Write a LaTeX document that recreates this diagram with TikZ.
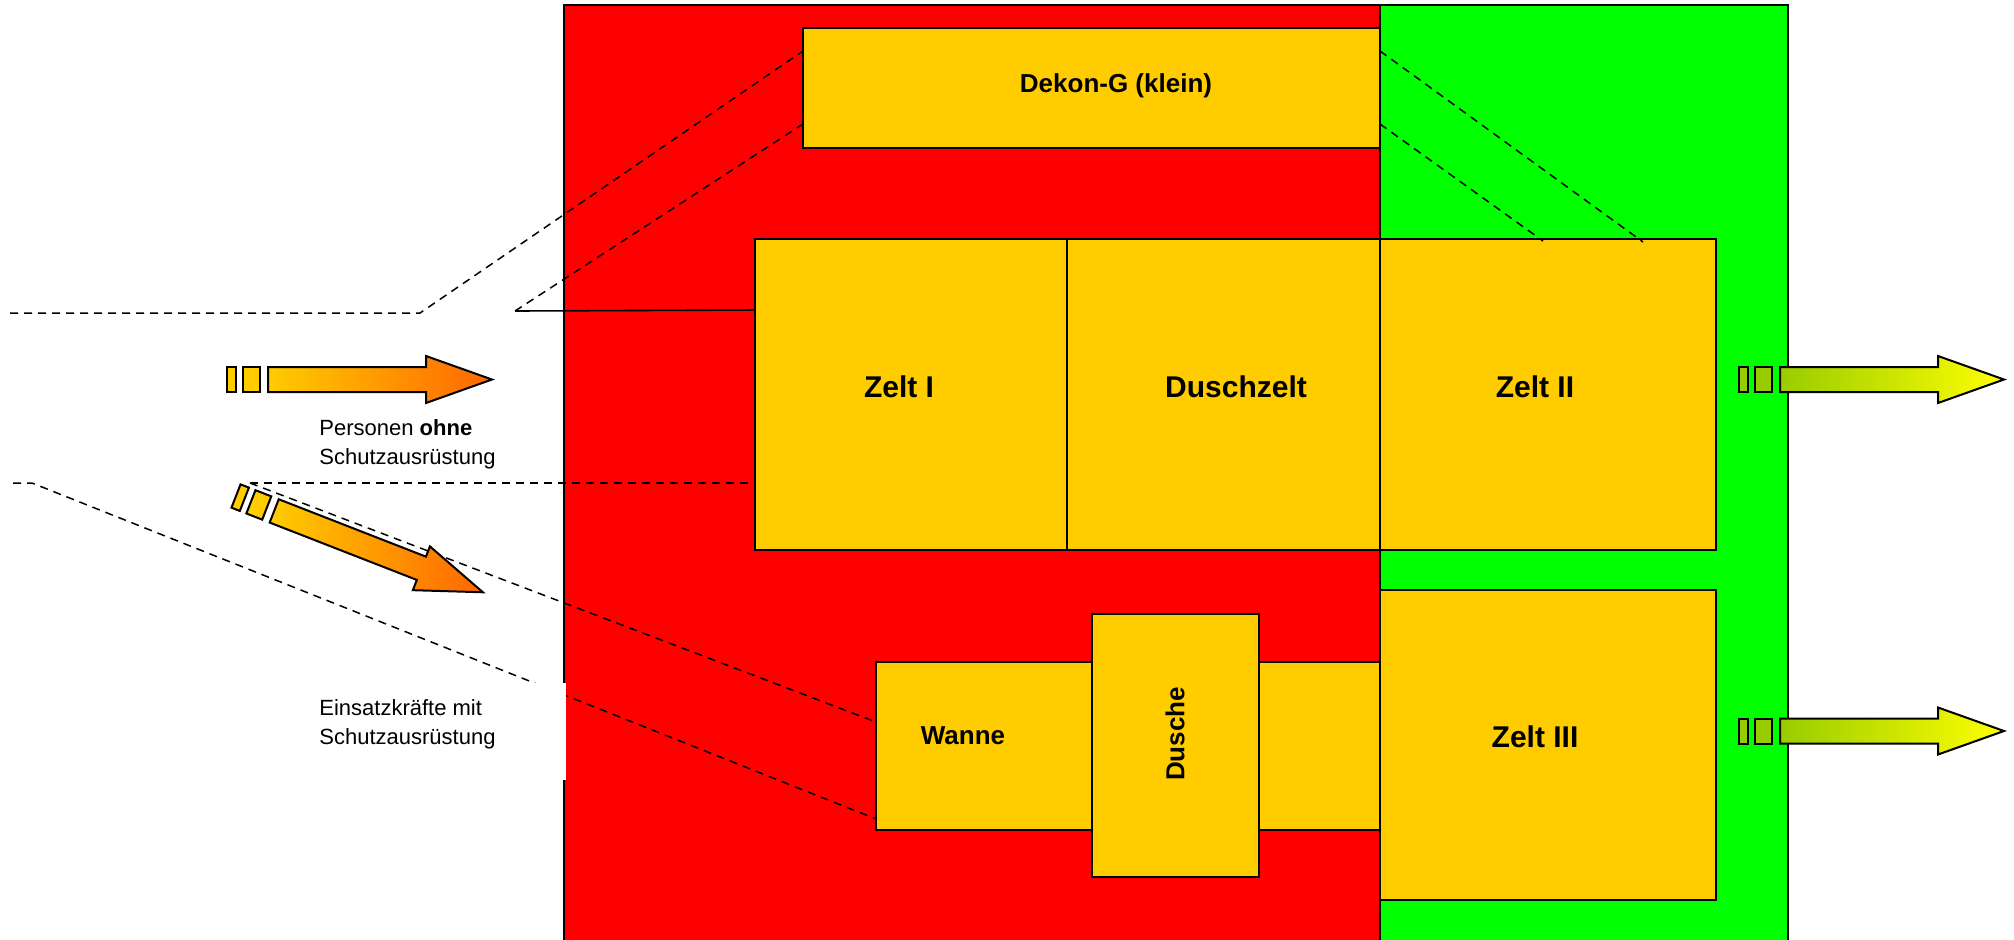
\documentclass[tikz,border=0pt]{standalone}
\usepackage{fontspec}
\setmainfont{Liberation Sans}
\usetikzlibrary{fit}
\definecolor{zred}{HTML}{FF0000}
\definecolor{zgreen}{HTML}{00FF00}
\definecolor{gold}{HTML}{FFCC00}
\definecolor{aorange}{HTML}{FF6600}
\definecolor{olive}{HTML}{99CC00}
\definecolor{ayellow}{HTML}{FFFF00}
\tikzset{
  zone/.style={draw=black, line width=1pt},
  box/.style={draw=black, fill=gold, line width=1pt, inner sep=0pt},
  dashline/.style={dash pattern=on 4pt off 3pt, line width=0.75pt},
  solidline/.style={line width=0.8pt},
  arrowline/.style={draw=black, line width=1pt, line join=miter},
  biglabel/.style={font=\fontsize{15pt}{18pt}\selectfont\bfseries, inner sep=0pt},
  midlabel/.style={font=\fontsize{13pt}{16pt}\selectfont\bfseries, inner sep=0pt},
  sidetext/.style={font=\fontsize{11pt}{14.3pt}\selectfont, align=left, inner sep=0pt, anchor=west},
  pics/flowarrow/.style n args={2}{code={
    \draw[arrowline, fill=#1] (0,-12.5) rectangle (9,12.5);
    \draw[arrowline, fill=#1] (16,-12.5) rectangle (33,12.5);
    \draw[arrowline, left color=#1, right color=#2]
      (41,-12.5) -- (199,-12.5) -- (199,-23.5) -- (265,0) -- (199,23.5) -- (199,12.5) -- (41,12.5) -- cycle;
  }}
}
\begin{document}
\begin{tikzpicture}[x=0.5pt,y=-0.5pt]
\clip (0,0) rectangle (2014,939);
\fill[white] (0,0) rectangle (2014,939);

% zones
\draw[zone, fill=zred] (564,5) rectangle (1380,960);
\draw[zone, fill=zgreen] (1380,5) rectangle (1788,960);

% boxes
\node[box, fit={(803,28) (1380,148)}] (dekon) {};
\node[box, fit={(755,239) (1067,550)}] (zelt1) {};
\node[box, fit={(1067,239) (1380,550)}] (duschzelt) {};
\node[box, fit={(1380,239) (1716,550)}] (zelt2) {};
\node[box, fit={(1380,590) (1716,900)}] (zelt3) {};
\node[box, fit={(876,662) (1092,830)}] (wanne) {};
\node[box, fit={(1259,662) (1380,830)}] (ablage) {};
\node[box, fit={(1092,614) (1259,877)}] (dusche) {};

% guide coordinates
\coordinate (a0) at (10,313);
\coordinate (a1) at (420,313);
\coordinate (a2) at (803,51);
\coordinate (b0) at (515,311);
\coordinate (b2) at (803,124);
\coordinate (c1) at (755,310);
\coordinate (r1a) at (1380,51);
\coordinate (r1b) at (1643,242);
\coordinate (r2a) at (1380,124);
\coordinate (r2b) at (1543,241);
\coordinate (m0) at (250,483);
\coordinate (m1) at (755,483);
\coordinate (m2) at (876,722);
\coordinate (l0) at (13,483);
\coordinate (l1) at (32,483);
\coordinate (l2) at (876,819);

% dashed guide lines
\draw[dashline] (a0) -- (a1) -- (a2);
\draw[dashline] (b0) -- (b2);
\draw[solidline] (b0) -- (c1);
\draw[dashline] (r1a) -- (r1b);
\draw[dashline] (r2a) -- (r2b);
\draw[dashline] (m0) -- (m1);
\draw[dashline] (m0) -- (m2);
\draw[dashline] (l0) -- (l1) -- (l2);

% box labels
\node[midlabel] (tdekon) at (1116,86) {Dekon-G (klein)};
\node[biglabel] (tzelt1) at (899,387) {Zelt I};
\node[biglabel] (tdusch) at (1236,387) {Duschzelt};
\node[biglabel] (tzelt2) at (1535,387) {Zelt II};
\node[biglabel] (tzelt3) at (1535,737) {Zelt III};
\node[midlabel] (twanne) at (963,736) {Wanne};
\node[midlabel, rotate=90] (tdusche) at (1175,734) {Dusche};

% white text panel
\fill[white] (300,683) rectangle (566,780);

% side texts
\node[sidetext] (tohne) at (319,444) {Personen \textbf{ohne}\\Schutzausrüstung};
\node[sidetext] (tmit) at (319,724) {Einsatzkräfte mit\\Schutzausrüstung};

% arrows
\pic at (227,379.5) {flowarrow={gold}{aorange}};
\pic[rotate=-21.3] at (236,496) {flowarrow={gold}{aorange}};
\pic at (1739,379.5) {flowarrow={olive}{ayellow}};
\pic at (1739,731) {flowarrow={olive}{ayellow}};
\end{tikzpicture}
\end{document}
